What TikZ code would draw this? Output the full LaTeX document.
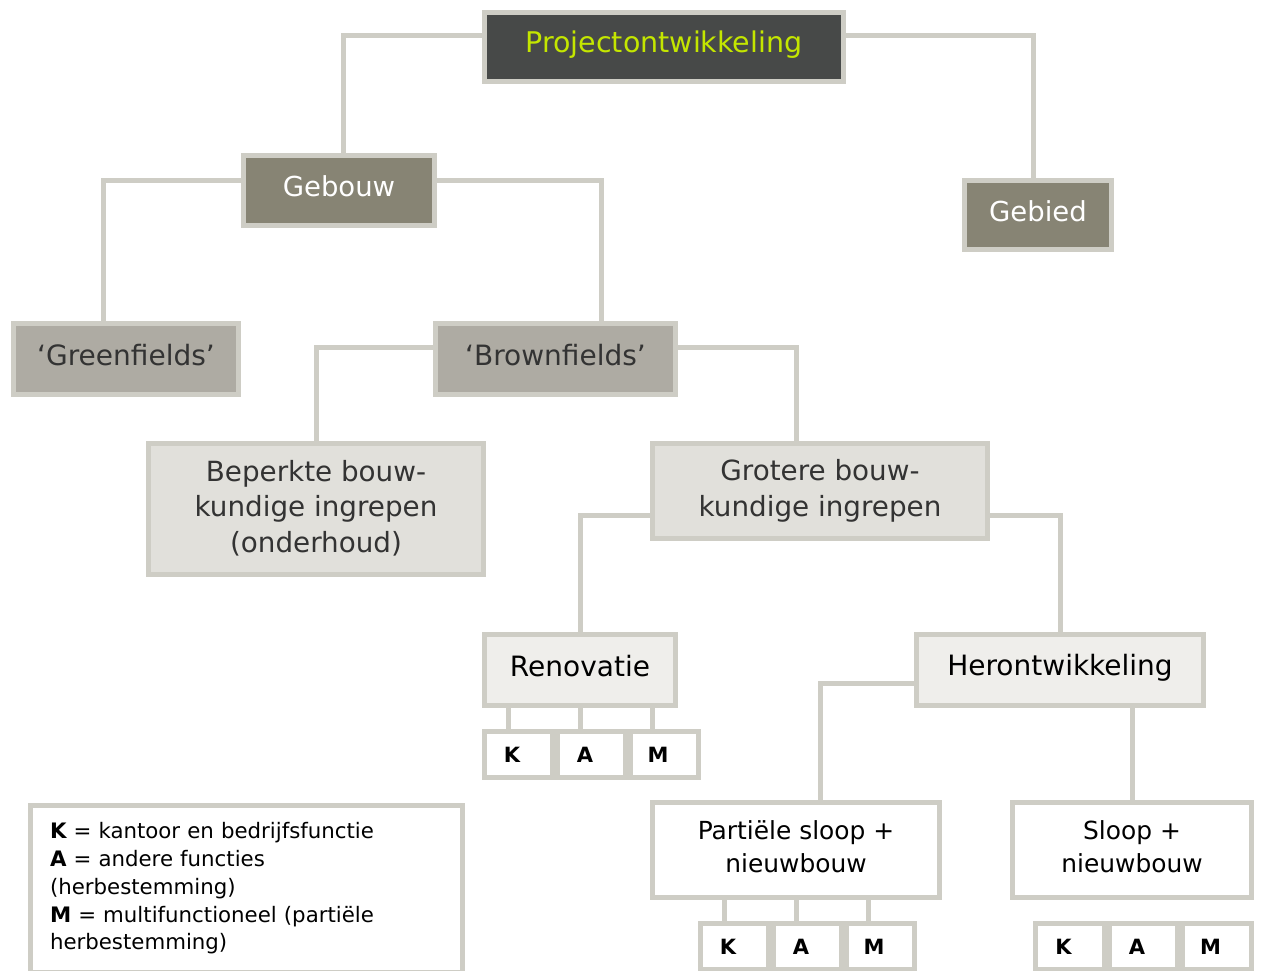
\documentclass[tikz,border=0pt]{standalone}
\usepackage{fontspec}
\setmainfont{DejaVu Sans}
\usetikzlibrary{backgrounds}
\definecolor{edge}{RGB}{206,205,197}
\definecolor{darkfill}{RGB}{71,73,72}
\definecolor{lime}{RGB}{196,230,0}
\definecolor{taupe}{RGB}{135,132,116}
\definecolor{stone}{RGB}{174,171,163}
\definecolor{pale}{RGB}{225,224,219}
\definecolor{paler}{RGB}{239,238,235}
\definecolor{ink}{RGB}{51,51,51}
\begin{document}
\begin{tikzpicture}[x=1pt,y=-1pt,
  box/.style={draw=edge,line width=5pt,inner sep=0pt},
  tx/.style={align=center,inner sep=0pt,yshift=4pt},
  wire/.style={draw=edge,line width=5pt},
  cell/.style={box,fill=white,minimum width=68.5pt,minimum height=46pt},
  celltx/.style={inner sep=0pt,xshift=-6.5pt,font=\fontsize{21}{24}\selectfont\bfseries}]
\useasboundingbox (0,0) rectangle (1261,970);

% hierarchy boxes
\node[box,fill=darkfill,minimum width=359pt,minimum height=69pt,
  label={[tx,yshift=-2pt,text=lime,font=\fontsize{28.5}{34}\selectfont]center:Projectontwikkeling}]
  (proj) at (664,47) {};
\node[box,fill=taupe,minimum width=191pt,minimum height=70pt,
  label={[tx,text=white,font=\fontsize{27.5}{33}\selectfont]center:Gebouw}]
  (gebouw) at (339,190.5) {};
\node[box,fill=taupe,minimum width=147pt,minimum height=69pt,
  label={[tx,text=white,font=\fontsize{27.5}{33}\selectfont]center:Gebied}]
  (gebied) at (1038,215) {};
\node[box,fill=stone,minimum width=225pt,minimum height=71pt,
  label={[tx,text=ink,font=\fontsize{28}{34}\selectfont]center:‘Greenfields’}]
  (green) at (126,359) {};
\node[box,fill=stone,minimum width=240pt,minimum height=71pt,
  label={[tx,text=ink,font=\fontsize{28}{34}\selectfont]center:‘Brownfields’}]
  (brown) at (555.5,359) {};
\node[box,fill=pale,minimum width=335pt,minimum height=131pt,
  label={[tx,yshift=-3pt,text=ink,font=\fontsize{27.8}{35.5}\selectfont]center:{Beperkte bouw-\\kundige ingrepen\\(onderhoud)}}]
  (beperkt) at (316,509) {};
\node[box,fill=pale,minimum width=335pt,minimum height=95pt,
  label={[tx,yshift=-4pt,text=ink,font=\fontsize{27.8}{35.5}\selectfont]center:{Grotere bouw-\\kundige ingrepen}}]
  (groot) at (820,491) {};
\node[box,fill=paler,minimum width=191pt,minimum height=71pt,
  label={[tx,text=black,font=\fontsize{28}{33}\selectfont]center:Renovatie}]
  (renov) at (580,670) {};
\node[box,fill=paler,minimum width=287pt,minimum height=71pt,
  label={[tx,yshift=-2pt,text=black,font=\fontsize{28}{33}\selectfont]center:Herontwikkeling}]
  (heront) at (1060,670) {};
\node[box,fill=white,minimum width=287pt,minimum height=95pt,
  label={[tx,yshift=-0.5pt,text=black,font=\fontsize{24.9}{32.5}\selectfont]center:{Partiële sloop +\\nieuwbouw}}]
  (partieel) at (796,850) {};
\node[box,fill=white,minimum width=239pt,minimum height=95pt,
  label={[tx,yshift=-0.5pt,text=black,font=\fontsize{24.9}{32.5}\selectfont]center:{Sloop +\\nieuwbouw}}]
  (sloop) at (1132,850) {};

% function cells
\node[cell,label={[celltx]center:K}] (rk) at (518.5,754.5) {};
\node[cell,label={[celltx]center:A}] (ra) at (591.5,754.5) {};
\node[cell,label={[celltx]center:M}] (rm) at (664.5,754.5) {};
\node[cell,label={[celltx]center:K}] (pk) at (734.5,946.5) {};
\node[cell,label={[celltx]center:A}] (pa) at (807.5,946.5) {};
\node[cell,label={[celltx]center:M}] (pm) at (880.5,946.5) {};
\node[cell,label={[celltx]center:K}] (sk) at (1070,946.5) {};
\node[cell,label={[celltx]center:A}] (sa) at (1143.5,946.5) {};
\node[cell,label={[celltx]center:M}] (sm) at (1217,946.5) {};

% legend
\node[box,fill=white,text=black,anchor=north west,minimum width=432pt,
  minimum height=167pt,inner xsep=20pt,text width=392pt,align=left,
  font=\fontsize{21.3}{27.8}\selectfont] (legend) at (27.5,802.5)
  {{\bfseries K} = kantoor en bedrijfsfunctie\\
   {\bfseries A} = andere functies\\
   (herbestemming)\\
   {\bfseries M} = multifunctioneel (partiële\\
   herbestemming)};

% connectors
\begin{pgfonlayer}{background}
\draw[wire] ([yshift=12pt]proj.west) -| ([xshift=4pt]gebouw.north);
\draw[wire] ([yshift=12pt]proj.east) -| ([xshift=-5pt]gebied.north);
\draw[wire] ([yshift=10.5pt]gebouw.west) -| ([xshift=-23pt]green.north);
\draw[wire] ([yshift=10.5pt]gebouw.east) -| ([xshift=45.5pt]brown.north);
\draw[wire] ([yshift=12pt]brown.west) -| (beperkt.north);
\draw[wire] ([yshift=12pt]brown.east) -| ([xshift=-24pt]groot.north);
\draw[wire] ([yshift=-24pt]groot.west) -| (renov.north);
\draw[wire] ([yshift=-24pt]groot.east) -| (heront.north);
\draw[wire] ([yshift=-13pt]heront.west) -| ([xshift=24pt]partieel.north);
\draw[wire] (heront.south -| sloop.north) -- (sloop.north);
\draw[wire] ([xshift=-10pt]rk.north |- renov.south) -- ([xshift=-10pt]rk.north);
\draw[wire] ([xshift=-11pt]ra.north |- renov.south) -- ([xshift=-11pt]ra.north);
\draw[wire] ([xshift=-12pt]rm.north |- renov.south) -- ([xshift=-12pt]rm.north);
\draw[wire] ([xshift=-10pt]pk.north |- partieel.south) -- ([xshift=-10pt]pk.north);
\draw[wire] ([xshift=-11pt]pa.north |- partieel.south) -- ([xshift=-11pt]pa.north);
\draw[wire] ([xshift=-12pt]pm.north |- partieel.south) -- ([xshift=-12pt]pm.north);
\end{pgfonlayer}
\end{tikzpicture}
\end{document}
